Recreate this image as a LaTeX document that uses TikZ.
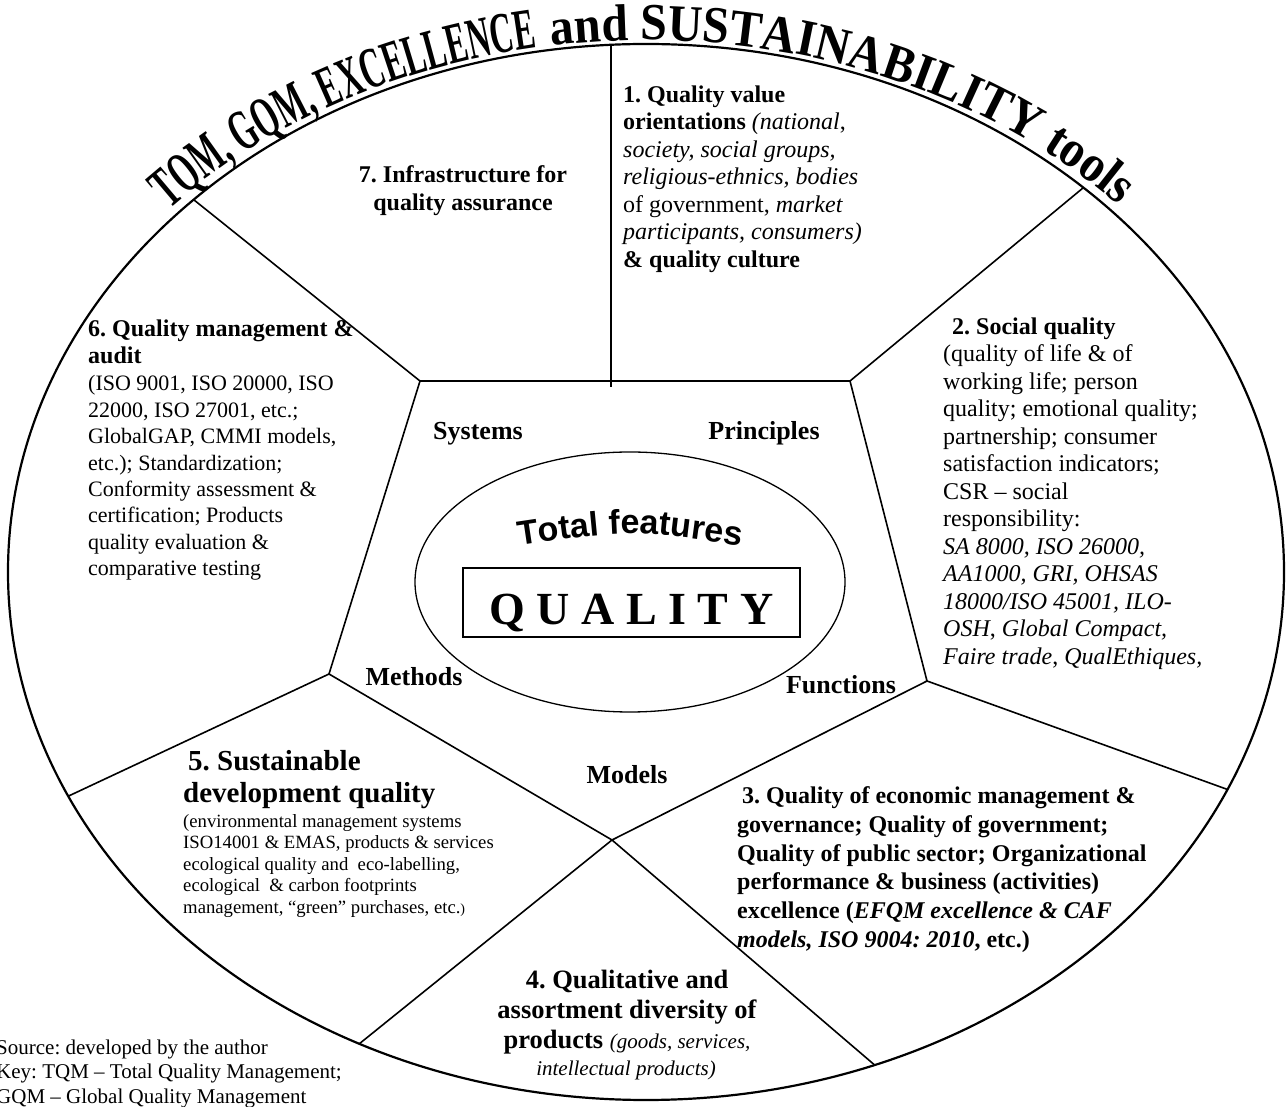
\documentclass[tikz,border=0pt]{standalone}
\usepackage{fontspec}
\setmainfont{Liberation Serif}
\newfontfamily\titlenarrow[FakeStretch=0.55]{Liberation Serif}
\newfontfamily\titlewide[FakeStretch=0.92]{Liberation Serif}
\newfontfamily\coresans{Liberation Sans}
\usetikzlibrary{shapes.geometric,decorations.text}
\frenchspacing

\begin{document}
\begin{tikzpicture}[x=1pt,y=1pt,
  rimline/.style={line width=2.2pt},
  edge/.style={line width=1.6pt},
  txt/.style={inner sep=0pt, align=left, anchor=north west},
  ctxt/.style={inner sep=0pt, align=center, anchor=north},
  lab/.style={inner sep=0pt, anchor=base, font=\bfseries\fontsize{26}{30}\selectfont},
]
\useasboundingbox (0,0) rectangle (1287,1106);
\fill[white] (0,0) rectangle (1287,1106);

% outer rim and the central oval
\node[draw, ellipse, rimline, minimum width=1276pt, minimum height=1056pt, inner sep=0pt] (rim) at (646,534) {};
\node[draw, ellipse, line width=1.3pt, minimum width=430pt, minimum height=260pt, inner sep=0pt] (core) at (630,524) {};

% inner pentagon corners
\coordinate (A) at (420,725);
\coordinate (B) at (850,725);
\coordinate (C) at (927,425);
\coordinate (D) at (612,266);
\coordinate (E) at (329,432);
\coordinate (M0) at (611,719);
% far ends of the spokes (cut by the rim)
\coordinate (M1) at (611,1100);
\coordinate (a1) at (58,1015);
\coordinate (b1) at (1223,1034);
\coordinate (c1) at (1409,251);
\coordinate (e1) at (-85,238);
\coordinate (dl) at (209,-59);
\coordinate (dr) at (1038,-99);

\draw[edge, line join=miter] (A) -- (B) -- (C) -- (D) -- (E) -- cycle;
\begin{scope}
  \clip (646,534) ellipse [x radius=638, y radius=528];
  \draw[edge] (M0) -- (M1);
  \draw[edge] (A) -- (a1);
  \draw[edge] (B) -- (b1);
  \draw[edge] (C) -- (c1);
  \draw[edge] (E) -- (e1);
  \draw[edge] (D) -- (dl);
  \draw[edge] (D) -- (dr);
\end{scope}

% arched title
\path[decorate, decoration={text along path, text align=center,
  text={|\titlenarrow\bfseries\fontsize{58}{64}\selectfont|TQM, GQM, EXCELLENCE}}]
  (646,534) ++(137:652 and 532) arc[start angle=137, end angle=99.6, x radius=652, y radius=532];
\path[decorate, decoration={text along path, text align=center,
  text={|\titlewide\bfseries\fontsize{52}{58}\selectfont|and SUSTAINABILITY tools}}]
  (646,534) ++(98.5:652 and 532) arc[start angle=98.5, end angle=43.3, x radius=652, y radius=532];

% centre
\path[decorate, decoration={text along path, text align=center,
  text={|\coresans\bfseries\fontsize{34}{40}\selectfont|Total features}}]
  (505,558) .. controls (630,577) .. (755,558);
\node[draw, line width=1.5pt, anchor=base, minimum width=337pt, text height=57pt, text depth=12pt,
  inner xsep=0pt, inner ysep=0pt, font=\bfseries\fontsize{46}{50}\selectfont] (quality) at (631.5,481) {Q U A L I T Y};

% labels inside the pentagon
\node[lab] (systems) at (478,666) {Systems};
\node[lab] (principles) at (764,666) {Principles};
\node[lab] (methods) at (414,420) {Methods};
\node[lab] (functions) at (841,412) {Functions};
\node[lab] (models) at (627,322) {Models};

% sector texts
\node[txt, font=\fontsize{24}{27.5}\selectfont] (s1) at (623,1020.5)
  {\textbf{1. Quality value}\\
   \textbf{orientations} \textit{(national},\\
   \textit{society, social groups,}\\
   \textit{religious-ethnics, bodies}\\
   of government, \textit{market}\\
   \textit{participants, consumers)}\\
   \textbf{\& quality culture}};

\node[txt, font=\fontsize{24}{27.5}\selectfont] (s2) at (943,788.5)
  {\hspace*{9pt}\textbf{2. Social quality}\\
   (quality of life \& of\\
   working life; person\\
   quality; emotional quality;\\
   partnership; consumer\\
   satisfaction indicators;\\
   CSR -- social\\
   responsibility:\\
   \textit{SA 8000, ISO 26000,}\\
   \textit{AA1000, GRI, OHSAS}\\
   \textit{18000/ISO 45001, ILO-}\\
   \textit{OSH}, \textit{Global Compact,}\\
   \textit{Faire trade}, \textit{QualEthiques,}};

\node[txt, font=\bfseries\fontsize{24}{28.8}\selectfont] (s3) at (737,319.5)
  {\hspace*{5pt}3. Quality of economic management \&\\
   governance; Quality of government;\\
   Quality of public sector; Organizational\\
   performance \& business (activities)\\
   excellence (\textit{EFQM excellence \& CAF}\\
   \textit{models, ISO 9004: 2010}, etc.)};

\node[ctxt, font=\bfseries\fontsize{26.5}{30}\selectfont] (s4) at (627,136.3)
  {4. Qualitative and\\
   assortment diversity of\\
   products {\mdseries\itshape\fontsize{21}{24}\selectfont (goods, services,}};
\node[ctxt, font=\itshape\fontsize{21}{24}\selectfont] (s4b) at (626,45.5)
  {intellectual products)};

\node[txt, font=\bfseries\fontsize{29}{32}\selectfont] (s5) at (183,356)
  {\hspace*{5pt}5. Sustainable\\
   development quality};
\node[txt, font=\fontsize{18.7}{21.5}\selectfont] (s5b) at (183,292)
  {(environmental management systems\\
   ISO14001 \& EMAS, products \& services\\
   ecological quality and\ \ eco-labelling,\\
   ecological\ \ \& carbon footprints\\
   management, “green” purchases, etc.{\fontsize{14}{16}\selectfont)}};

\node[txt, font=\bfseries\fontsize{24}{27}\selectfont] (s6) at (88,786.5)
  {6. Quality management \&\\
   audit};
\node[txt, font=\fontsize{22}{26.4}\selectfont] (s6b) at (88,730.5)
  {(ISO 9001, ISO 20000, ISO\\
   22000, ISO 27001, etc.;\\
   GlobalGAP, CMMI models,\\
   etc.); Standardization;\\
   Conformity assessment \&\\
   certification; Products\\
   quality evaluation \&\\
   comparative testing};

\node[ctxt, font=\bfseries\fontsize{24}{28}\selectfont] (s7) at (463,940.5)
  {7. Infrastructure for\\
   quality assurance};

% source note
\node[txt, font=\fontsize{21}{24.5}\selectfont] (note) at (-4,66.3)
  {Source: developed by the author\\
   Key: TQM -- Total Quality Management;\\
   GQM -- Global Quality Management};
\end{tikzpicture}
\end{document}
